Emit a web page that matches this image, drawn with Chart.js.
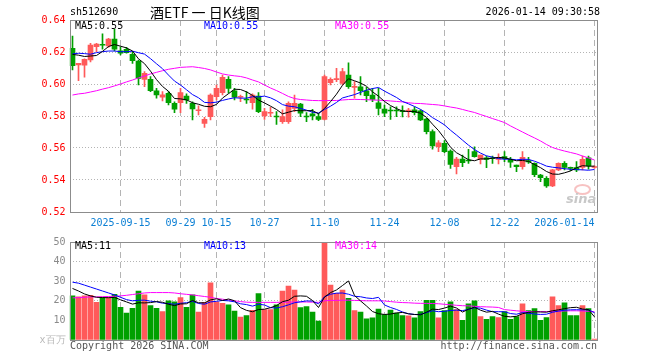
<!DOCTYPE html>
<html>
<head>
<meta charset="utf-8">
<script src="https://cdn.jsdelivr.net/npm/chart.js@4.4.1/dist/chart.umd.min.js"></script>
<style>
  body { margin: 0; background: #fff; width: 660px; height: 360px; overflow: hidden; position: relative;
         font-family: "DejaVu Sans Mono", monospace; font-size: 10px; }
  .t { position: absolute; white-space: nowrap; line-height: 12px; }
  #kline { position: absolute; left: 0; top: 0; }
  #vol { position: absolute; left: 0; top: 232px; }
  .eye { position: absolute; left: 574px; top: 184px; width: 13px; height: 7px;
         border: 2px solid rgba(238, 120, 120, 0.45); border-radius: 50%; }
</style>
</head>
<body>
<canvas id="kline" width="660" height="232"></canvas>
<canvas id="vol" width="660" height="128"></canvas>

<div class="t" style="left:70px;top:6px;">sh512690</div>
<div class="t" style="left:150px;top:3px;font-family:'Noto Sans CJK SC';font-size:14px;line-height:18px;">酒ETF 一 日K线图</div>
<div class="t" style="right:60px;top:6px;">2026-01-14 09:30:58</div>

<div class="t" style="left:75px;top:20px;color:#000;">MA5:0.55</div>
<div class="t" style="left:204px;top:20px;color:#0000ff;">MA10:0.55</div>
<div class="t" style="left:335px;top:20px;color:#ff00ff;">MA30:0.55</div>

<div class="t" style="left:75px;top:240px;color:#000;">MA5:11</div>
<div class="t" style="left:204px;top:240px;color:#0000ff;">MA10:13</div>
<div class="t" style="left:335px;top:240px;color:#ff00ff;">MA30:14</div>

<div class="eye"></div>
<div class="t" style="left:566px;top:191px;color:#c8c8c8;font-family:'DejaVu Sans';font-style:italic;font-weight:bold;font-size:13px;line-height:16px;">sina</div>

<div class="t" style="left:70px;top:340px;color:#555;">Copyright 2026 SINA.COM</div>
<div class="t" style="right:63px;top:340px;color:#555;">http://finance.sina.com.cn</div>

<script>
// ---------- 日K数据 ----------
const dates = [
  "2025-09-03","2025-09-04","2025-09-05","2025-09-08","2025-09-09","2025-09-10","2025-09-11","2025-09-12",
  "2025-09-15","2025-09-16","2025-09-17","2025-09-18","2025-09-19","2025-09-22","2025-09-23","2025-09-24",
  "2025-09-25","2025-09-26","2025-09-29","2025-09-30","2025-10-09","2025-10-10","2025-10-13","2025-10-14",
  "2025-10-15","2025-10-16","2025-10-17","2025-10-20","2025-10-21","2025-10-22","2025-10-23","2025-10-24",
  "2025-10-27","2025-10-28","2025-10-29","2025-10-30","2025-10-31","2025-11-03","2025-11-04","2025-11-05",
  "2025-11-06","2025-11-07","2025-11-10","2025-11-11","2025-11-12","2025-11-13","2025-11-14","2025-11-17",
  "2025-11-18","2025-11-19","2025-11-20","2025-11-21","2025-11-24","2025-11-25","2025-11-26","2025-11-27",
  "2025-11-28","2025-12-01","2025-12-02","2025-12-03","2025-12-04","2025-12-05","2025-12-08","2025-12-09",
  "2025-12-10","2025-12-11","2025-12-12","2025-12-15","2025-12-16","2025-12-17","2025-12-18","2025-12-19",
  "2025-12-22","2025-12-23","2025-12-24","2025-12-25","2025-12-26","2025-12-29","2025-12-30","2025-12-31",
  "2026-01-05","2026-01-06","2026-01-07","2026-01-08","2026-01-09","2026-01-12","2026-01-13","2026-01-14"
];

const openP = [
  0.6223,0.6119,0.6117,0.6150,0.6233,0.6247,0.6238,0.6281,0.6208,0.6217,
  0.6186,0.6144,0.6029,0.6029,0.5958,0.5917,0.5942,0.5879,0.5883,0.5925,
  0.5879,0.5833,0.5754,0.5796,0.5921,0.5946,0.6029,0.5958,0.5917,0.5902,
  0.5883,0.5925,0.5800,0.5817,0.5798,0.5764,0.5764,0.5848,0.5875,0.5798,
  0.5813,0.5796,0.5779,0.6008,0.6027,0.6004,0.6056,0.5979,0.5983,0.5958,
  0.5931,0.5883,0.5844,0.5833,0.5833,0.5829,0.5831,0.5838,0.5833,0.5781,
  0.5702,0.5608,0.5629,0.5581,0.5483,0.5531,0.5521,0.5577,0.5529,0.5539,
  0.5536,0.5529,0.5546,0.5529,0.5494,0.5483,0.5521,0.5504,0.5431,0.5411,
  0.5363,0.5463,0.5504,0.5475,0.5477,0.5479,0.5539,0.5478
];
const highP = [
  0.6300,0.6129,0.6158,0.6254,0.6254,0.6313,0.6285,0.6342,0.6233,0.6229,
  0.6202,0.6150,0.6077,0.6046,0.5973,0.5952,0.5952,0.5889,0.5973,0.5938,
  0.5889,0.5863,0.5792,0.5938,0.5994,0.6056,0.6046,0.5973,0.5931,0.5952,
  0.5938,0.5946,0.5848,0.5854,0.5827,0.5838,0.5889,0.5931,0.5879,0.5821,
  0.5842,0.5817,0.6056,0.6038,0.6098,0.6098,0.6133,0.6015,0.6046,0.5979,
  0.5973,0.5973,0.5869,0.5858,0.5858,0.5863,0.5848,0.5858,0.5838,0.5785,
  0.5713,0.5646,0.5646,0.5588,0.5542,0.5556,0.5592,0.5608,0.5556,0.5550,
  0.5550,0.5563,0.5577,0.5542,0.5494,0.5577,0.5542,0.5508,0.5435,0.5421,
  0.5467,0.5508,0.5515,0.5480,0.5515,0.5550,0.5550,0.5488
];
const lowP = [
  0.6088,0.6021,0.6042,0.6138,0.6202,0.6217,0.6229,0.6206,0.6181,0.6192,
  0.6129,0.5994,0.5983,0.5952,0.5911,0.5894,0.5869,0.5821,0.5821,0.5879,
  0.5775,0.5806,0.5729,0.5775,0.5900,0.5931,0.5942,0.5900,0.5889,0.5879,
  0.5842,0.5821,0.5779,0.5796,0.5748,0.5754,0.5754,0.5827,0.5796,0.5764,
  0.5775,0.5771,0.5775,0.5994,0.6015,0.5994,0.5973,0.5911,0.5931,0.5889,
  0.5889,0.5806,0.5796,0.5779,0.5796,0.5794,0.5792,0.5806,0.5771,0.5688,
  0.5592,0.5577,0.5571,0.5473,0.5438,0.5483,0.5504,0.5542,0.5500,0.5477,
  0.5504,0.5500,0.5514,0.5479,0.5452,0.5467,0.5504,0.5421,0.5389,0.5354,
  0.5358,0.5458,0.5463,0.5458,0.5452,0.5463,0.5467,0.5473
];
const closeP = [
  0.6114,0.6129,0.6154,0.6244,0.6250,0.6242,0.6281,0.6217,0.6192,0.6196,
  0.6146,0.6035,0.6067,0.5958,0.5931,0.5933,0.5883,0.5842,0.5946,0.5900,
  0.5844,0.5835,0.5779,0.5931,0.5973,0.6042,0.5973,0.5917,0.5923,0.5900,
  0.5931,0.5827,0.5827,0.5823,0.5794,0.5796,0.5879,0.5879,0.5817,0.5794,
  0.5800,0.5779,0.6046,0.6029,0.6029,0.6077,0.5983,0.5983,0.5958,0.5927,
  0.5904,0.5848,0.5817,0.5831,0.5831,0.5827,0.5833,0.5821,0.5775,0.5702,
  0.5613,0.5633,0.5577,0.5498,0.5531,0.5508,0.5519,0.5546,0.5556,0.5529,
  0.5533,0.5542,0.5533,0.5511,0.5483,0.5542,0.5513,0.5433,0.5415,0.5363,
  0.5463,0.5504,0.5479,0.5473,0.5463,0.5529,0.5488,0.5480
];

// 成交量（百万）
const volumes = [
  22.5,22,22.5,22.8,19.2,21.7,21.7,23.3,16.7,13.7,
  16.2,25,23,17.5,16.2,14.5,20,19.5,21.7,16.7,
  23,14.2,19.2,29.2,19.5,18.7,18,14.7,11.7,12.5,
  15.2,23.7,15.5,15.5,18,25,27.5,25.5,16.5,17,
  14.2,9.7,52,28,23.8,25.5,21.3,15,14.2,10.8,
  11.3,15.8,13,15.3,13.7,12.5,12.3,11.3,14.5,20.3,
  20.3,11.3,15,19.5,15.5,10,18.5,20,12,10.5,
  12,11.5,14.5,10.5,12,18.5,15,16,10,11.5,
  22,17.5,19,12.5,12.5,17.5,16,0.5
];

// 窗口之前的均线起点（图上读取）与 MA30
const ma5Lead = [0.6185, 0.6180, 0.6172, 0.6175];
const ma10Lead = [0.6188, 0.6192, 0.6190, 0.6186, 0.6196, 0.6202, 0.6206, 0.6206, 0.6202];
const ma30Price = [
  0.5931,0.5938,0.5942,0.5950,0.5958,0.5968,0.5977,0.5988,0.6000,0.6013,
  0.6025,0.6038,0.6050,0.6063,0.6073,0.6083,0.6092,0.6098,0.6104,0.6106,
  0.6108,0.6103,0.6097,0.6088,0.6075,0.6063,0.6056,0.6051,0.6047,0.6038,
  0.6025,0.6013,0.5994,0.5975,0.5959,0.5941,0.5922,0.5909,0.5903,0.5900,
  0.5897,0.5896,0.5896,0.5897,0.5897,0.5900,0.5903,0.5904,0.5903,0.5902,
  0.5900,0.5899,0.5897,0.5894,0.5891,0.5888,0.5883,0.5879,0.5878,0.5875,
  0.5872,0.5869,0.5863,0.5856,0.5850,0.5841,0.5831,0.5822,0.5809,0.5797,
  0.5784,0.5772,0.5759,0.5738,0.5719,0.5700,0.5681,0.5663,0.5644,0.5622,
  0.5603,0.5591,0.5581,0.5572,0.5563,0.5550,0.5538,0.5525
];
const volMa5Lead = [26.3, 25, 23.5, 22.5];
const volMa10Lead = [29.5, 29, 28, 27, 26, 25, 24, 23, 21.8];
const volMa30 = [
  21.5,21.6,21.8,22,22,22.1,22.2,22.3,22.5,22.8,
  23.2,23.6,24,24.2,24.2,24.2,24.2,24,23.6,23.3,
  23,22.6,22.2,21.8,21.2,20.8,20.4,20,19.6,19.3,
  19.2,19.2,19.2,19.2,19.2,19.3,19.3,19.4,19.4,19.4,
  19.3,19.2,20,20.2,20.2,20.3,20.3,20.2,20.1,20,
  20,20,19.9,19.6,19.3,19.1,19,18.8,18.7,18.7,
  18.6,18.5,18.2,18,17.7,17.5,17.4,17.2,17,16.9,
  16.8,16.6,15.5,15.2,14.9,14.6,14.5,14.5,14.5,14.5,
  14.6,14.7,14.8,14.9,14.9,14.8,14.6,14.4
];

// 坐标轴刻度
const tickDates = ["2025-09-15","2025-09-29","2025-10-15","2025-10-27","2025-11-10","2025-11-24","2025-12-08","2025-12-22","2026-01-14"];
const tickLabels = ["2025-09-15","09-29","10-15","10-27","11-10","11-24","12-08","12-22","2026-01-14"];
const priceTicks = [0.52, 0.54, 0.56, 0.58, 0.60, 0.62, 0.64];
const volTicks = [0, 10, 20, 30, 40, 50];

// ---------- 派生 ----------
function movingAvg(src, n, lead) {
    return src.map((_, i) => {
        if (i < n - 1) return lead[i];
        let s = 0;
        for (let k = i - n + 1; k <= i; k++) s += src[k];
        return s / n;
    });
}

const UP = "#ff5a5a";
const DOWN = "#00a000";
const barColors = closeP.map((c, i) => (c >= openP[i] ? UP : DOWN));
const wicks = lowP.map((l, i) => [l, highP[i]]);
const bodies = openP.map((o, i) => [o, closeP[i]]);

const tickMap = {};
tickDates.forEach((d, k) => { tickMap[dates.indexOf(d)] = tickLabels[k]; });

const MONO = { family: "DejaVu Sans Mono", size: 10 };
const GRID = "#b4b4b4";

Chart.defaults.animation = false;

// 外框
const frame = {
    id: "frame",
    afterDraw(chart) {
        const { ctx, chartArea: a } = chart;
        ctx.save();
        ctx.strokeStyle = "#8c8c8c";
        ctx.lineWidth = 1;
        ctx.strokeRect(Math.round(a.left) + 0.5, Math.round(a.top) + 0.5,
                       Math.round(a.right - a.left) - 1, Math.round(a.bottom - a.top));
        ctx.restore();
    }
};

function lineSet(data, color) {
    return { type: "line", data: data, borderColor: color, borderWidth: 1,
             pointRadius: 0, tension: 0, order: 0 };
}

function xAxis(showLabels) {
    return {
        offset: true,
        grid: {
            offset: false, drawTicks: false, lineWidth: 1,
            color: c => (tickMap[c.index] !== undefined ? GRID : "rgba(0,0,0,0)")
        },
        border: { display: false, dash: [6, 4] },
        ticks: {
            display: showLabels, autoSkip: false, minRotation: 0, maxRotation: 0,
            align: "inner", color: "#0b7fd4", font: MONO, padding: 5,
            callback: (v, i) => tickMap[i] || ""
        },
        afterFit: s => { s.height = 20; }
    };
}

// ---------- K线 ----------
new Chart(document.getElementById("kline"), {
    data: {
        labels: dates,
        datasets: [
            lineSet(movingAvg(closeP, 5, ma5Lead), "#000000"),
            lineSet(movingAvg(closeP, 10, ma10Lead), "#0000ff"),
            lineSet(ma30Price, "#ff00ff"),
            { type: "bar", data: wicks, backgroundColor: barColors, barThickness: 1,
              grouped: false, order: 1 },
            { type: "bar", data: bodies, backgroundColor: barColors, barThickness: 5,
              grouped: false, minBarLength: 1, order: 1 }
        ]
    },
    options: {
        responsive: false,
        layout: { padding: { top: 20, right: 62.5, bottom: 0, left: 0 } },
        plugins: { legend: { display: false }, tooltip: { enabled: false } },
        scales: {
            x: xAxis(true),
            y: {
                min: priceTicks[0], max: priceTicks[priceTicks.length - 1],
                grid: { color: GRID, drawTicks: false },
                border: { display: false, dash: [1, 2] },
                ticks: { stepSize: priceTicks[1] - priceTicks[0], color: "#ff0000", font: MONO,
                         padding: 4, callback: v => v.toFixed(2) },
                afterFit: s => { s.width = 69.5; }
            }
        }
    },
    plugins: [frame]
});

// ---------- 成交量 ----------
new Chart(document.getElementById("vol"), {
    data: {
        labels: dates,
        datasets: [
            lineSet(movingAvg(volumes, 5, volMa5Lead), "#000000"),
            lineSet(movingAvg(volumes, 10, volMa10Lead), "#0000ff"),
            lineSet(volMa30, "#ff00ff"),
            { type: "bar", data: volumes, backgroundColor: barColors, barThickness: 5,
              order: 1, clip: 0 }
        ]
    },
    options: {
        responsive: false,
        layout: { padding: { top: 8, right: 62.5, bottom: 0, left: 0 } },
        plugins: { legend: { display: false }, tooltip: { enabled: false } },
        scales: {
            x: xAxis(false),
            y: {
                min: volTicks[0], max: volTicks[volTicks.length - 1],
                grid: { color: GRID, drawTicks: false },
                border: { display: false, dash: [1, 2] },
                ticks: { stepSize: volTicks[1] - volTicks[0], font: MONO, padding: 4,
                         color: c => (c.tick && c.tick.value === 0 ? "#b8b8b8" : "#8a8a8a"),
                         callback: v => (v === 0 ? "x百万" : v) },
                afterFit: s => { s.width = 69.5; }
            }
        }
    },
    plugins: [frame]
});
</script>
</body>
</html>
